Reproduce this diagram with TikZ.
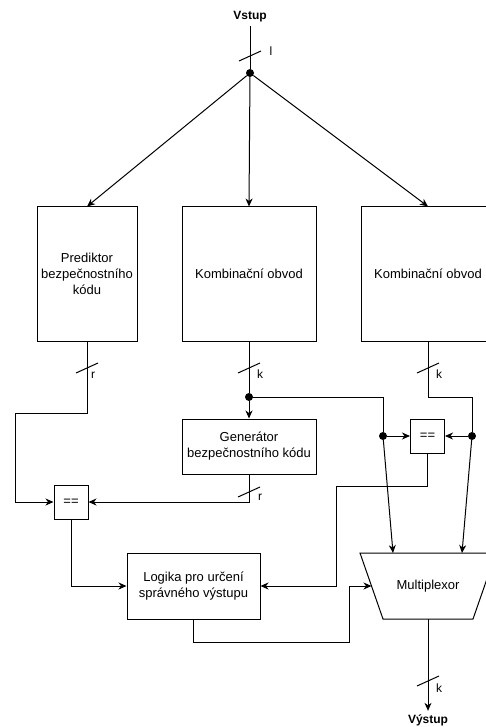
\documentclass[tikz,border=0pt]{standalone}
\usepackage{fontspec}
\setmainfont{Liberation Sans}
\usetikzlibrary{arrows.meta}
\begin{document}
\begin{tikzpicture}[x=1pt,y=-1pt,
  wire/.style={line width=1pt, draw=black},
  arr/.style={wire, -{Stealth[length=8pt,width=7pt,inset=2.5pt]}},
  block/.style={draw, line width=1pt, inner sep=0pt, align=center, font=\fontsize{13}{16}\selectfont},
  cmp/.style={block, minimum width=34pt, minimum height=34pt},
  lbl/.style={font=\fontsize{12}{14}\selectfont, inner sep=0pt},
  io/.style={font=\bfseries\fontsize{12}{14}\selectfont},
  dot/.style={circle, fill=black, inner sep=0pt, minimum size=8pt}
]
\useasboundingbox (0,0) rectangle (486,727);

% blocks
\node[io] (in) at (250,17) {Vstup};
\node[dot] (split) at (250,73) {};
\node[block, minimum width=100pt, minimum height=134pt] (pred) at (87,274) {Prediktor\\bezpečnostního\\kódu};
\node[block, minimum width=134pt, minimum height=134pt] (comb1) at (249,274) {Kombinační obvod};
\node[block, minimum width=134pt, minimum height=134pt] (comb2) at (428,274) {Kombinační obvod};
\node[dot] (d1) at (249,397) {};
\node[block, minimum width=134pt, minimum height=55pt] (gen) at (249,446.5) {Generátor\\bezpečnostního kódu};
\node[cmp] (cmpL) at (71,502) {==};
\node[cmp] (cmpR) at (427.5,436) {==};
\node[dot] (dL) at (383,436) {};
\node[dot] (dR) at (472,436) {};
\node[block, minimum width=133pt, minimum height=66pt] (logic) at (193.5,586) {Logika pro určení\\správného výstupu};

% multiplexor
\coordinate (muxTL) at (360,553);
\coordinate (muxTR) at (496,553);
\coordinate (muxBR) at (473,619);
\coordinate (muxBL) at (383,619);
\draw[line width=1pt] (muxTL) -- (muxTR) -- (muxBR) -- (muxBL) -- cycle;
\node[font=\fontsize{13}{16}\selectfont] (mux) at (428,586) {Multiplexor};
\coordinate (muxA) at (393,553);
\coordinate (muxB) at (462,553);
\coordinate (muxS) at (371.5,586);
\coordinate (muxO) at (428,619);
\node[io] (out) at (428,720) {Výstup};

% connectors
\draw[wire] (in) -- (split);
\draw[arr] (split) -- (pred.north);
\draw[arr] (split) -- (comb1.north);
\draw[arr] (split) -- (comb2.north);
\draw[arr] (pred.south) |- (15,413) |- (cmpL.west);
\draw[wire] (comb1.south) -- (d1);
\draw[arr] (d1) -- (gen.north);
\draw[arr] (gen.south) |- (cmpL.east);
\draw[wire] (d1) -| (dL);
\draw[arr] (dL) -- (cmpR.west);
\draw[wire] (comb2.south) |- (472,397) -- (dR);
\draw[arr] (dR) -- (cmpR.east);
\draw[arr] (dL) -- (muxA);
\draw[arr] (dR) -- (muxB);
\draw[arr] (cmpR.south) |- (336,486) |- (logic.east);
\draw[arr] (cmpL.south) |- (logic.west);
\draw[arr] (logic.south) |- (349,642) |- (muxS);
\draw[arr] (muxO) -- (out.north);

% bus width marks
\draw[wire] (250,56) ++(-11,5) -- ++(22,-10);
\node[lbl] (wl) at (271,51) {l};
\draw[wire] (87,368) ++(-11,5) -- ++(22,-10);
\node[lbl] (wr1) at (93,375) {r};
\draw[wire] (249,368) ++(-11,5) -- ++(22,-10);
\node[lbl] (wk1) at (260,374) {k};
\draw[wire] (428,368) ++(-11,5) -- ++(22,-10);
\node[lbl] (wk2) at (439,374) {k};
\draw[wire] (249,492) ++(-11,5) -- ++(22,-10);
\node[lbl] (wr2) at (260,497) {r};
\draw[wire] (428,681) ++(-11,5) -- ++(22,-10);
\node[lbl] (wk3) at (439,688) {k};
\end{tikzpicture}
\end{document}
